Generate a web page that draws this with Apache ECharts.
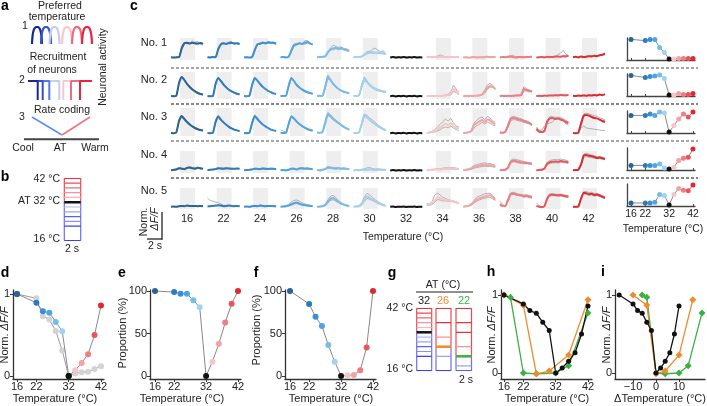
<!DOCTYPE html>
<html><head><meta charset="utf-8">
<script src="https://cdn.jsdelivr.net/npm/echarts@6/dist/echarts.min.js"></script>
<style>html,body{margin:0;padding:0;background:#fff}#c{width:707px;height:406px}</style>
</head><body><div id="c"></div><script>
const FONT = 'Liberation Sans, Arial, Helvetica, sans-serif';
const temps = [16,22,24,26,28,30,32,34,36,38,40,42];
const tempLabels = ['16','22','24','26','28','30','32','34','36','38','40','42'];
const tempColors = ['#2a6496','#2c7bbd','#3a8fd4','#4ea5e2','#76bdee','#a0d2f5','#111111','#f7c5c7','#f3a3a6','#ef7d82','#e8555b','#dd2a31'];

// panel c traces (percent of normalised dF/F, 13 samples per trial)
const r1Mean = [[5,3,5,6,60,92,95,90,96,92,90,94,88],[5,4,6,5,55,85,92,88,94,96,90,92,88],[4,5,3,6,50,85,90,95,92,98,95,96,90],[5,6,4,8,45,80,85,92,88,95,100,92,85],[5,6,8,10,35,55,60,65,58,62,55,50,45],[5,8,6,10,20,30,32,38,35,30,30,28,25],[4,6,3,5,4,6,3,5,4,6,3,5,4],[5,6,4,7,8,6,10,5,6,8,5,7,6],[3,5,2,4,6,3,5,4,6,8,5,7,6],[4,7,5,8,10,6,4,7,6,5,6,7,8],[3,5,6,4,8,7,6,9,10,8,12,10,14],[5,8,4,10,6,8,12,10,14,12,18,20,28]];
const r1GreyA = [[3,6,2,8,50,85,100,92,108,88,82,96,92],[4,6,3,6,45,80,98,85,100,104,86,96,92],[3,6,2,8,42,80,96,100,86,104,98,100,94],[4,7,3,10,38,72,80,100,82,108,110,96,80],[4,6,10,12,40,62,80,72,66,70,60,58,50],[6,8,4,12,25,40,38,55,62,50,40,45,30],[5,4,6,4,6,4,6,4,5,4,6,4,5],[5,6,8,4,12,20,14,8,6,10,6,8,6],[3,6,4,4,8,4,6,8,6,10,6,8,6],[4,8,6,10,14,18,6,8,10,6,8,6,10],[3,6,5,6,8,10,8,12,20,30,48,25,16],[6,6,5,12,8,10,14,12,16,14,20,24,32]];
const r1GreyB = [[7,2,5,4,68,96,88,98,90,100,104,86,80],[6,3,7,4,62,90,86,94,88,90,96,88,84],[6,4,5,5,58,90,84,92,98,92,92,90,86],[6,5,6,6,52,88,92,86,94,84,94,88,90],[6,5,7,8,30,50,52,58,52,56,50,46,40],[4,9,8,8,18,28,45,30,32,38,34,40,22],[3,6,4,6,3,7,4,6,3,6,4,6,3],[4,5,3,8,6,4,8,6,8,6,4,6,8],[4,4,2,6,4,6,4,3,8,6,8,6,8],[5,6,4,6,8,5,6,10,4,8,5,8,6],[4,4,8,5,6,8,6,8,8,10,14,12,16],[4,9,6,8,6,10,10,12,12,16,16,18,24]];
const r2Mean = [[5,4,6,70,100,85,65,50,38,28,20,15,12],[5,4,5,65,95,80,62,48,36,28,22,16,14],[5,4,6,60,95,82,65,50,40,30,24,18,15],[5,5,6,55,95,80,60,48,38,30,24,20,16],[5,6,5,50,100,85,65,52,40,32,26,22,18],[6,5,8,55,90,75,60,48,40,35,30,28,25],[4,6,3,5,4,6,3,5,4,6,3,5,4],[4,5,4,5,6,5,6,8,10,15,40,30,15],[4,5,4,5,6,6,8,12,25,45,55,50,40],[5,6,5,6,5,6,8,8,10,40,35,30,28],[5,6,5,7,6,8,7,9,8,10,9,8,10],[6,5,7,6,8,6,9,7,10,8,12,9,14]];
const r2GreyA = [[4,5,8,75,105,88,62,48,35,26,18,14,10],[4,5,6,72,100,78,60,45,34,26,20,14,12],[4,5,8,66,100,80,62,48,38,28,22,16,14],[4,6,7,62,98,78,58,46,36,28,22,18,14],[5,7,6,58,110,90,68,55,42,34,28,24,20],[7,6,10,62,100,80,64,52,44,38,34,30,28],[5,4,6,4,6,4,6,4,5,4,6,4,5],[4,6,4,6,8,6,8,10,14,25,60,40,20],[4,6,5,6,6,8,10,14,35,60,68,58,45],[5,6,6,7,6,7,9,10,14,52,42,35,30],[5,7,6,8,7,9,8,10,9,12,10,9,12],[7,5,8,6,9,7,10,8,12,9,14,10,16]];
const r2GreyB = [[6,3,5,62,95,90,70,55,42,32,24,18,14],[6,4,4,58,92,84,66,52,40,30,24,18,16],[6,3,5,52,90,86,68,54,42,32,26,20,16],[6,4,5,48,90,84,64,50,40,32,26,22,18],[6,5,4,42,92,82,62,50,38,30,24,20,16],[5,4,6,48,82,70,56,46,38,32,28,26,22],[3,6,4,6,3,7,4,6,3,6,4,6,3],[5,4,5,6,5,6,6,8,8,10,28,22,12],[5,4,4,5,7,6,8,10,20,38,50,48,38],[6,5,5,6,6,5,7,7,8,30,30,28,26],[6,5,6,6,7,7,8,8,9,9,8,9,9],[5,6,6,7,7,7,8,8,9,9,10,10,12]];
const r3Mean = [[5,4,8,65,90,75,60,48,38,30,24,20,18],[5,4,6,60,88,72,58,46,36,28,22,18,15],[5,4,6,55,90,75,60,48,38,30,22,18,15],[6,5,6,50,88,78,62,50,40,32,25,20,16],[8,6,10,55,100,90,75,65,55,45,35,28,22],[6,5,8,50,95,85,70,60,50,40,32,25,18],[4,6,3,5,4,6,3,5,4,6,3,5,4],[5,8,10,15,22,32,42,52,45,55,40,30,28],[5,6,8,15,45,55,62,70,60,72,68,55,50],[8,6,10,40,75,80,78,72,70,65,60,55,45],[25,12,10,15,60,78,80,75,78,72,68,60,55],[5,4,6,50,90,95,92,85,80,78,72,65,60]];
const r3GreyA = [[5,4,10,72,95,80,62,50,38,30,22,18,15],[5,4,8,68,95,76,60,46,36,28,22,18,14],[5,4,8,62,96,80,62,48,38,30,22,18,14],[20,14,10,55,92,82,64,52,42,34,26,22,18],[8,6,12,62,108,96,80,70,58,48,38,30,24],[6,5,10,56,100,92,80,70,58,46,36,28,20],[5,4,6,4,6,4,6,4,5,4,6,4,5],[5,10,14,22,35,48,62,75,65,78,55,40,35],[5,8,10,20,55,68,80,85,72,88,80,65,60],[10,8,12,48,82,88,85,80,76,70,66,60,50],[35,20,12,20,68,86,88,82,85,80,76,68,60],[5,4,8,62,100,104,100,96,92,88,82,76,70]];
const r3GreyB = [[6,5,6,58,84,70,58,46,38,30,26,22,20],[6,5,5,52,80,68,56,46,36,28,22,18,16],[6,5,5,48,84,70,58,48,38,30,24,20,16],[6,5,5,45,84,74,60,48,38,30,24,20,16],[8,6,8,48,92,86,70,60,52,42,32,26,20],[6,5,6,44,90,80,66,56,46,38,30,22,16],[3,6,4,6,3,7,4,6,3,6,4,6,3],[6,6,8,10,15,22,30,35,32,40,30,22,18],[5,6,8,10,30,42,48,58,50,60,55,45,42],[6,5,8,32,66,72,70,66,62,58,54,50,42],[30,15,20,40,50,55,60,75,80,84,70,50,45],[5,5,4,30,40,30,28,26,24,22,20,18,18]];
const r4Mean = [[5,8,10,18,15,12,20,22,18,15,20,18,15],[6,8,10,12,18,16,15,18,16,15,14,16,15],[5,6,8,10,15,14,12,16,14,13,15,14,12],[5,6,4,8,15,14,10,16,18,15,16,14,12],[6,4,8,12,22,20,18,16,18,15,16,14,12],[4,6,5,8,10,8,12,10,8,10,9,8,7],[4,6,3,5,4,6,3,5,4,6,3,5,4],[5,6,8,10,12,10,14,15,18,15,16,14,12],[6,8,10,15,25,30,35,38,40,35,38,32,30],[5,6,8,20,55,65,62,58,55,52,50,48,45],[5,6,8,15,45,55,58,60,58,62,60,58,55],[5,6,8,40,95,100,95,92,88,82,85,80,75]];
const r4GreyA = [[6,10,14,22,18,14,24,28,22,18,24,20,16],[6,10,12,14,22,20,18,22,20,18,16,18,16],[5,8,10,12,18,16,14,20,18,16,18,16,14],[5,8,6,10,18,18,12,20,22,18,20,16,14],[6,4,10,15,28,26,22,20,22,18,20,16,14],[4,8,6,10,14,20,22,16,12,14,12,10,8],[5,4,6,4,6,4,6,4,5,4,6,4,5],[5,6,10,12,15,14,18,20,24,20,22,18,16],[6,10,14,22,35,40,45,48,52,45,48,40,36],[5,8,10,25,65,75,72,68,64,60,56,52,50],[5,6,10,20,55,65,70,72,70,75,72,68,62],[5,6,10,48,105,112,105,100,96,88,92,86,80]];
const r4GreyB = [[5,6,8,14,12,10,16,18,14,12,16,14,12],[6,6,8,10,14,12,12,14,12,12,12,14,14],[5,5,6,8,12,12,10,12,10,10,12,12,10],[5,5,4,6,12,10,8,12,14,12,12,12,10],[6,5,6,10,18,16,14,12,14,12,12,12,10],[4,5,4,6,8,6,8,8,6,8,7,6,6],[3,6,4,6,3,7,4,6,3,6,4,6,3],[5,6,6,8,10,8,10,12,14,12,12,10,10],[5,6,8,10,18,22,25,28,30,28,30,26,24],[5,5,6,16,48,58,55,50,48,46,45,44,40],[5,6,6,12,38,48,50,52,50,54,52,50,48],[5,6,6,32,85,90,86,84,80,76,78,74,70]];
const r5Mean = [[5,6,4,8,10,8,12,10,9,10,8,9,8],[6,8,10,12,14,12,8,10,12,10,8,9,8],[5,6,4,8,10,8,12,10,8,10,9,8,7],[5,6,8,12,20,28,32,25,18,15,12,10,8],[4,6,8,15,35,55,60,48,35,25,18,12,10],[5,6,8,20,50,70,62,50,40,30,22,15,10],[4,6,3,5,4,6,3,5,4,6,3,5,4],[20,18,25,45,65,60,52,50,45,42,40,32,28],[5,8,10,20,35,50,58,65,70,75,78,65,50],[20,10,8,45,85,90,85,80,78,72,75,70,65],[10,5,2,8,55,80,82,80,78,80,76,72,70],[5,4,6,55,95,92,85,88,80,84,76,70,62]];
const r5GreyA = [[5,6,4,10,12,10,14,12,10,12,10,10,8],[60,45,40,35,30,22,14,12,14,12,10,10,8],[5,6,4,10,14,10,16,12,10,12,10,9,8],[6,8,12,20,35,45,48,40,30,24,18,14,10],[5,8,10,22,48,72,78,62,45,32,22,15,12],[5,8,12,30,68,90,80,64,50,38,28,18,12],[5,4,6,4,6,4,6,4,5,4,6,4,5],[25,22,40,80,92,80,65,58,50,45,42,35,30],[5,10,12,25,45,65,72,80,88,90,92,75,60],[40,20,10,55,92,98,92,86,84,80,82,78,72],[30,12,4,10,62,88,90,86,84,86,82,78,76],[5,4,8,62,100,104,95,98,90,92,84,78,70]];
const r5GreyB = [[5,6,5,6,8,6,10,8,8,8,7,8,8],[5,8,8,10,12,10,8,8,10,8,8,8,8],[5,6,5,6,8,7,9,8,7,8,8,7,6],[5,6,8,10,15,22,25,20,15,12,10,9,8],[4,6,8,12,28,45,50,40,30,22,16,10,8],[5,6,6,14,40,58,52,44,36,26,20,14,10],[3,6,4,6,3,7,4,6,3,6,4,6,3],[15,14,18,35,50,48,42,42,40,38,36,30,26],[5,6,8,15,28,40,48,55,60,62,64,55,45],[10,8,6,38,78,84,80,76,72,66,68,64,58],[5,3,2,6,50,72,76,74,72,74,70,66,64],[5,4,5,48,88,84,78,80,72,76,70,64,56]];

// panel c summaries
const sumNo1 = [0.98,0.92,0.98,0.98,0.57,0.33,0,0,0.02,0.03,0.03,0.03];
const sumNo2 = [0.98,0.87,0.92,0.95,1.0,0.82,0,0,0.08,0.03,0.02,0.08];
const sumNo3 = [0.83,0.83,0.9,0.83,1.0,0.95,0,0.32,0.65,0.9,0.75,1.0];
const sumNo4 = [0.18,0.18,0.18,0.18,0.25,0.05,0,0.08,0.43,0.54,0.59,1.0];
const sumNo5 = [0.1,0.1,0.1,0.14,0.52,0.47,0,0.53,0.83,0.74,0.71,1.0];

// panels d-f
const dNorm = [1,0.894,0.79,0.77,0.66,0.547,0,0.07,0.16,0.265,0.5,0.86];
const dGrey = [1,0.947,0.73,0.69,0.55,0.31,0,0.03,0.045,0.053,0.086,0.12];
const eProp = [100,98.8,96.8,96.8,89,81,0,16.8,38,62.8,85,100];
const fProp = [100,84.8,69.6,58.8,36.4,16.8,0,0.8,1.2,6.8,33.6,100];

// panels g-i
const at32Temps = [16,22,24,26,28,30,32,34,36,38,40,42];
const at26Temps = [16,22,26,30,36,42];
const at22Temps = [16,18,22,26,32,36,42];
const hBlack = [1,0.885,0.8,0.766,0.65,0.545,0,0.064,0.15,0.26,0.5,0.86];
const hOrange = [1,0.87,-0.01,0.025,0.23,0.94];
const hGreen = [1,0.97,0,-0.01,0,0.094,0.77];

// ---------------------------------------------------------------
const grids=[], xAxes=[], yAxes=[], series=[], graphics=[];
function addGrid(box,x,y){grids.push(box);const gi=grids.length-1;xAxes.push(Object.assign({gridIndex:gi},x));yAxes.push(Object.assign({gridIndex:gi},y));return gi;}
const hidden=(min,max)=>({type:'value',min:min,max:max,show:false});
function addSeries(gi,s){series.push(Object.assign({xAxisIndex:gi,yAxisIndex:gi,animation:false,silent:true,z:3},s));}
function txt(text,x,y,o){o=o||{};graphics.push({type:'text',x:x,y:y,rotation:o.rot||0,silent:true,z:10,style:{text:text,fill:o.color||'#222',fontSize:o.size||10.5,fontFamily:FONT,fontWeight:o.bold?'bold':'normal',fontStyle:o.italic?'italic':'normal',align:o.align||'center',verticalAlign:'middle',textAlign:o.align||'center',textVerticalAlign:'middle',rich:o.rich}});}
function hline(x1,y1,x2,y2,color,w,dash){graphics.push({type:'line',silent:true,z:10,shape:{x1:x1,y1:y1,x2:x2,y2:y2},style:{stroke:color,lineWidth:w,lineDash:dash||null}});}

// ---------- panel a ----------
const humpCenters=[9,18,26.5,39,49,59];
const humpColors=['#1a2a8c','#2f55d4','#c5cdf0','#f6c7cf','#f06a80','#e8243f'];
const archShape=[[-5,0],[-4.4,0.5],[-3.3,0.82],[-1.7,0.97],[0,1],[1.7,0.97],[3.3,0.82],[4.4,0.5],[5,0]];
const gA1=addGrid({left:28,top:27,width:64,height:17},hidden(0,64),hidden(0,1));
humpCenters.forEach((c,i)=>addSeries(gA1,{type:'line',smooth:0.4,symbol:'none',data:archShape.map(p=>[c+p[0],p[1]]),lineStyle:{color:humpColors[i],width:2.2}}));
const gA2=addGrid({left:28,top:81,width:64,height:19},hidden(0,64),hidden(0,1));
const coolDrops=[31.3,21.3,14.7,9.7], coolCols=['#c5cdf0','#5577e8','#2f4fd0','#1a2a8c'];
coolDrops.forEach((d,i)=>addSeries(gA2,{type:'line',symbol:'none',data:[[0,1],[d,1],[d,0]],lineStyle:{color:coolCols[i],width:2}}));
const warmRises=[35.3,43,52], warmCols=['#f6c7cf','#f06a80','#e8243f'];
warmRises.forEach((d,i)=>addSeries(gA2,{type:'line',symbol:'none',data:[[d,0],[d,1],[64,1]],lineStyle:{color:warmCols[i],width:2}}));
const gA3=addGrid({left:28,top:117,width:64,height:18},hidden(0,64),hidden(0,1));
addSeries(gA3,{type:'line',symbol:'none',data:[[4,1],[34,0]],lineStyle:{color:'#5b8ef5',width:1.5}});
addSeries(gA3,{type:'line',symbol:'none',data:[[34,0],[62,1]],lineStyle:{color:'#f4707e',width:1.5}});
hline(24,139.3,99,139.3,'#444',2);
txt('a',5,6,{bold:true,size:14,color:'#000'});
txt('Preferred',60,6);txt('temperature',57,17);
txt('Recruitment',58,57);txt('of neurons',52,70);txt('Rate coding',62,110);
txt('1',25,26);txt('2',22,80);txt('3',22,117);
txt('Neuronal activity',103,67,{rot:Math.PI/2});
txt('Cool',23,148);txt('AT',60,148);txt('Warm',95,148);

// ---------- boxes (b, g) ----------
function boxColor(dT){
  if(dT>0) return dT>=10?'#e8323c':dT>=8?'#ec4a53':dT>=6?'#f06870':dT>=4?'#f4939a':'#f7b5ba';
  return dT<=-10?'#3a42ec':dT<=-8?'#8a90f2':dT<=-6?'#5b62f0':dT<=-4?'#9aa0f4':'#b4b8f6';
}
function drawBox(box,bt,at,atColor){
  const gi=addGrid(box,hidden(0,1),hidden(16,42));
  [0,1].forEach(x=>{
    addSeries(gi,{type:'line',symbol:'none',data:[[x,at],[x,42]],lineStyle:{color:'#ec4a53',width:1.2}});
    addSeries(gi,{type:'line',symbol:'none',data:[[x,16],[x,at]],lineStyle:{color:'#6a70f0',width:1.2}});
  });
  bt.forEach(t=>{ if(t===at) return;
    addSeries(gi,{type:'line',symbol:'none',data:[[0,t],[1,t]],lineStyle:{color:boxColor(t-at),width:1.2}});});
  addSeries(gi,{type:'line',symbol:'none',z:4,data:[[0,at],[1,at]],lineStyle:{color:atColor,width:2.5}});
}
drawBox({left:64.3,top:178.3,width:16.4,height:62.2},at32Temps,32,'#111');
txt('b',5,177,{bold:true,size:14,color:'#000'});
txt('42 °C',60,179,{align:'right'});txt('AT 32 °C',60,201,{align:'right'});txt('16 °C',60,239,{align:'right'});txt('2 s',72,249);

drawBox({left:416.7,top:308.3,width:15,height:62.4},at32Temps,32,'#111');
drawBox({left:436,top:308.3,width:15,height:62.4},at26Temps,26,'#f08a30');
drawBox({left:456,top:308.3,width:15.5,height:62.4},at22Temps,22,'#3cb043');
txt('g',392,273,{bold:true,size:14,color:'#000'});
txt('AT (°C)',443,285);hline(416,292,473,292,'#222',1);
txt('32',424,301,{size:11});txt('26',443,301,{size:11,color:'#f08a30'});txt('22',464,301,{size:11,color:'#3cb043'});
txt('42 °C',413,308,{align:'right'});txt('16 °C',413,369,{align:'right'});txt('2 s',466,380);

// ---------- panel c traces ----------
const SP=36.5*12/32;
const rowBoxes=[{top:38,h:22,min:-0.12,max:1.25},{top:72,h:27,min:-0.1,max:1.25},{top:108,h:28,min:-0.1,max:1.3},{top:151,h:22,min:-0.12,max:1.25},{top:188,h:21,min:-0.1,max:1.25}];
const rowMeans=[r1Mean,r2Mean,r3Mean,r4Mean,r5Mean];
const rowGA=[r1GreyA,r2GreyA,r3GreyA,r4GreyA,r5GreyA];
const rowGB=[r1GreyB,r2GreyB,r3GreyB,r4GreyB,r5GreyB];
const toPts=(arr,ci)=>arr.map((v,k)=>[ci*SP+k,v/100]);
rowBoxes.forEach((rb,r)=>{
  const gi=addGrid({left:171,top:rb.top,width:434,height:rb.h},hidden(0,11*SP+12),hidden(rb.min,rb.max));
  const areas=[];temps.forEach((t,ci)=>{if(t!==32)areas.push([{xAxis:ci*SP+3.4},{xAxis:ci*SP+9}]);});
  addSeries(gi,{type:'line',data:[],z:1,markArea:{silent:true,itemStyle:{color:'#eeeeee'},data:areas}});
  temps.forEach((t,ci)=>{
    addSeries(gi,{type:'line',symbol:'none',z:2,data:toPts(rowGA[r][ci],ci),lineStyle:{color:'#a8a8a8',width:0.9}});
    addSeries(gi,{type:'line',symbol:'none',z:2,data:toPts(rowGB[r][ci],ci),lineStyle:{color:'#a8a8a8',width:0.9}});
  });
  temps.forEach((t,ci)=>addSeries(gi,{type:'line',symbol:'none',smooth:0.2,z:3,data:toPts(rowMeans[r][ci],ci),lineStyle:{color:tempColors[ci],width:2}}));
});
const gCL=addGrid({left:168.75,top:200,width:438,height:5},{type:'category',data:tempLabels,boundaryGap:true,axisLine:{show:false},axisTick:{show:false},axisLabel:{interval:0,fontSize:11,margin:8,color:'#222',fontFamily:FONT}},hidden(0,1));
txt('c',134,6,{bold:true,size:14,color:'#000'});
['No. 1','No. 2','No. 3','No. 4','No. 5'].forEach((s,i)=>txt(s,167,[43,80,117,155,191][i],{align:'right',size:11}));
txt('Temperature (°C)',403,237,{size:10.5});
hline(171,68,698,68,'#888',1.5,[3,2]);hline(171,104,698,104,'#111',1.2,[3,2]);
hline(171,141,698,141,'#888',1.5,[3,2]);hline(171,178,698,178,'#111',1.2,[3,2]);
hline(162,212,162,239.5,'#222',1.3);hline(147,239,162.5,239,'#222',1.3);
txt('Norm.',144,222,{rot:Math.PI/2,size:10.5});txt('ΔF/F',155,219,{rot:Math.PI/2,size:10.5,italic:true});
txt('2 s',155,246,{size:10.5});

// ---------- panel c summaries ----------
const sums=[sumNo1,sumNo2,sumNo3,sumNo4,sumNo5];
const sumTops=[38,74,111,148,184];
sums.forEach((arr,r)=>{
  const last=r===4;
  const gi=addGrid({left:627,top:sumTops[r],width:68,height:22},
   {type:'value',min:14.32,max:42.84,axisLine:{show:true,onZero:false,lineStyle:{color:'#444',width:1.3}},splitLine:{show:false},
    axisTick:{show:true,inside:true,length:2,customValues:[16,22,32,42],lineStyle:{color:'#444'}},
    axisLabel:{show:last,customValues:[16,22,32,42],fontSize:10.5,margin:3,color:'#222',fontFamily:FONT}},
   {type:'value',min:-0.05,max:1.05,axisLine:{show:true,lineStyle:{color:'#444',width:1.3}},axisTick:{show:false},axisLabel:{show:false},splitLine:{show:false}});
  addSeries(gi,{type:'line',symbol:'circle',symbolSize:5,clip:false,lineStyle:{color:'#888',width:1},
    data:temps.map((t,i)=>({value:[t,arr[i]],itemStyle:{color:tempColors[i]}}))});
});
txt('Temperature (°C)',663,229,{size:10.5});

// ---------- science axes helpers ----------
const minusFmt=v=>String(v).replace('-','\u2212');
function sx(min,max,vals){return {type:'value',min:min,max:max,axisLine:{show:true,onZero:false,lineStyle:{color:'#333',width:1.3}},splitLine:{show:false},
  axisTick:{show:true,length:3,customValues:vals,lineStyle:{color:'#333'}},axisLabel:{customValues:vals,formatter:minusFmt,fontSize:11,margin:2,color:'#222',fontFamily:FONT}};}
function sy(min,max,vals){return {type:'value',min:min,max:max,axisLine:{show:true,onZero:false,lineStyle:{color:'#333',width:1.3}},splitLine:{show:false},
  axisTick:{show:true,length:3,customValues:vals,lineStyle:{color:'#333'}},axisLabel:{customValues:vals,fontSize:11,margin:3,color:'#222',fontFamily:FONT}};}
const ylabRich={n:{fontSize:11,fontFamily:FONT,fill:'#222'},i:{fontSize:11,fontFamily:FONT,fill:'#222',fontStyle:'italic'}};
function colored(gi,xs,ys,size){addSeries(gi,{type:'line',symbol:'circle',symbolSize:size||6,clip:false,z:4,lineStyle:{color:'#888',width:1},
  data:xs.map((t,i)=>({value:[t,ys[i]],itemStyle:{color:tempColors[temps.indexOf(t)]}}))});}

// d
const gD=addGrid({left:13,top:290,width:91,height:89},sx(14.762,42.929,[16,22,32,42]),sy(-0.0366,1.0488,[0,1]));
addSeries(gD,{type:'line',symbol:'circle',symbolSize:6,clip:false,lineStyle:{color:'#999',width:1},itemStyle:{color:'#d3d3d3'},
  data:temps.map((t,i)=>({value:[t,dGrey[i]],itemStyle:{color:t===32?'#111':(t===16?'#2a6496':'#d3d3d3')}}))});
colored(gD,temps,dNorm);
txt('d',5,273,{bold:true,size:14,color:'#000'});
txt('{n|Norm. }{i|ΔF/F}',5,335,{rot:Math.PI/2,rich:ylabRich});
txt('Temperature (°C)',55,399,{size:11});
// e
const gE=addGrid({left:150,top:290,width:91,height:89},sx(14.434,42.94,[16,22,32,42]),sy(-3.57,101.2,[0,50,100]));
colored(gE,temps,eProp);
txt('e',122,273,{bold:true,size:14,color:'#000'});
txt('Proportion (%)',123,333,{rot:Math.PI/2,size:11});
txt('Temperature (°C)',182,399,{size:11});
// f
const gF=addGrid({left:285,top:290,width:91,height:89},sx(14.434,42.94,[16,22,32,42]),sy(-3.57,101.2,[0,50,100]));
colored(gF,temps,fProp);
txt('f',256,273,{bold:true,size:14,color:'#000'});
txt('Proportion (%)',257,330,{rot:Math.PI/2,size:11});
txt('Temperature (°C)',331,399,{size:11});
// h
const gH=addGrid({left:501,top:290,width:91,height:89},sx(15.07,43.24,[16,22,32,42]),sy(-0.077,1.064,[0,1]));
function atSeries(gi,xs,ys,color,sym,size){addSeries(gi,{type:'line',symbol:sym,symbolSize:size,clip:false,z:4,lineStyle:{color:color,width:1.3},itemStyle:{color:color},data:xs.map((t,i)=>[t,ys[i]])});}
atSeries(gH,at22Temps,hGreen,'#3cb043','diamond',7);
atSeries(gH,at26Temps,hOrange,'#f08a30','diamond',7);
atSeries(gH,at32Temps,hBlack,'#111','circle',5);
txt('h',491,272,{bold:true,size:14,color:'#000'});
txt('{n|Norm. }{i|ΔF/F}',492,335,{rot:Math.PI/2,rich:ylabRich});
txt('Temperature (°C)',547,399,{size:11});
// i
const gI=addGrid({left:615,top:290,width:90,height:89},sx(-17.83,21.3,[-10,0,10]),sy(-0.077,1.064,[0,1]));
atSeries(gI,at22Temps.map(t=>t-22),hGreen,'#3cb043','diamond',7);
atSeries(gI,at26Temps.map(t=>t-26),hOrange,'#f08a30','diamond',7);
atSeries(gI,at32Temps.map(t=>t-32),hBlack,'#111','circle',5);
txt('i',603,272,{bold:true,size:14,color:'#000'});
txt('{n|Norm. }{i|ΔF/F}',607,335,{rot:Math.PI/2,rich:ylabRich});
txt('ΔTemperature (°C)',660,399,{size:11});

const chart=echarts.init(document.getElementById('c'),null,{renderer:'canvas'});
chart.setOption({animation:false,textStyle:{fontFamily:FONT},grid:grids,xAxis:xAxes,yAxis:yAxes,series:series,graphic:{elements:graphics}});
</script></body></html>
